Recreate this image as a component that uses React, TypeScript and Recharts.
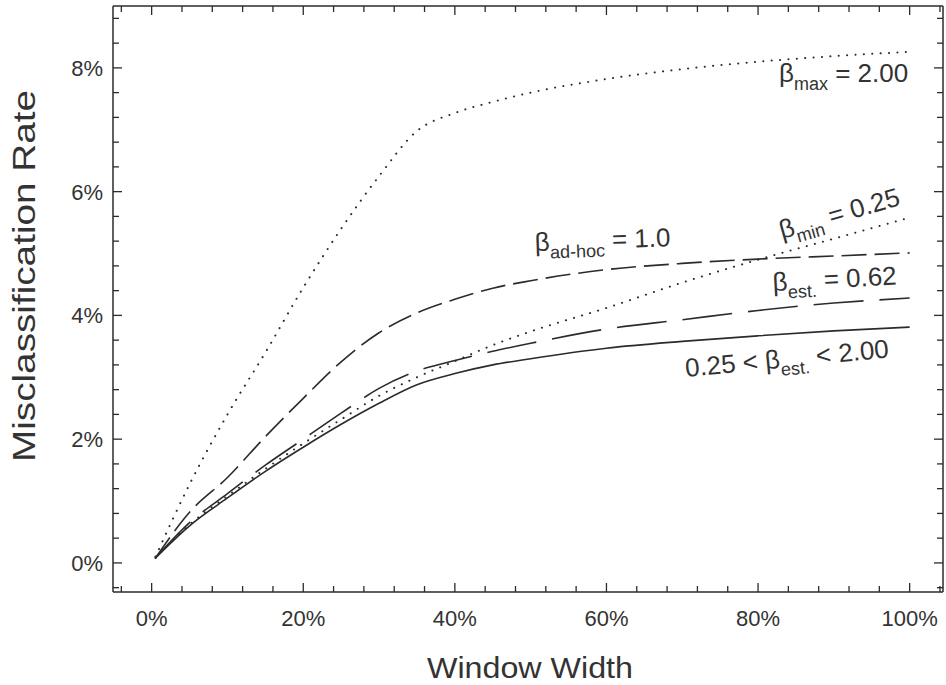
import { LineChart, Line, XAxis, YAxis } from "recharts";

// window width (%) at which each curve was read
const windowWidth = [0.5, 5, 10, 15, 20, 25, 30, 35, 40, 45, 50, 60, 70, 80, 90, 100];

// misclassification rate (%)
const betaMax = [0.1, 1.27, 2.4, 3.4, 4.45, 5.4, 6.25, 6.98, 7.27, 7.45, 7.6, 7.82, 7.98, 8.1, 8.19, 8.26];
const betaAdHoc = [0.08, 0.82, 1.38, 2.04, 2.66, 3.25, 3.72, 4.04, 4.26, 4.44, 4.56, 4.74, 4.84, 4.91, 4.96, 5.01];
const betaMin = [0.08, 0.62, 1.08, 1.52, 1.93, 2.32, 2.7, 3.0, 3.26, 3.52, 3.74, 4.12, 4.53, 4.9, 5.24, 5.58];
const betaEst = [0.08, 0.65, 1.12, 1.58, 2.0, 2.42, 2.82, 3.1, 3.27, 3.42, 3.55, 3.78, 3.93, 4.08, 4.2, 4.28];
const betaEstRange = [0.08, 0.6, 1.05, 1.48, 1.87, 2.24, 2.58, 2.88, 3.06, 3.2, 3.3, 3.47, 3.58, 3.67, 3.75, 3.81];

const xTicks = [-4, 0, 4, 8, 12, 16, 20, 24, 28, 32, 36, 40, 44, 48, 52, 56, 60, 64, 68, 72, 76, 80, 84, 88, 92, 96, 100, 104];
const yTicks = [-0.4, 0, 0.4, 0.8, 1.2, 1.6, 2, 2.4, 2.8, 3.2, 3.6, 4, 4.4, 4.8, 5.2, 5.6, 6, 6.4, 6.8, 7.2, 7.6, 8, 8.4, 8.8];
const xLabels = [0, 20, 40, 60, 80, 100];
const yLabels = [0, 2, 4, 6, 8];

const data = windowWidth.map((w, i) => ({
  w,
  betaMax: betaMax[i],
  betaAdHoc: betaAdHoc[i],
  betaMin: betaMin[i],
  betaEst: betaEst[i],
  betaEstRange: betaEstRange[i],
}));

const W = 946;
const H = 685;
const PLOT = { left: 113, top: 6, right: 943, bottom: 592 };
const INK = "#2b2b2b";
const FONT = "'Liberation Sans', Arial, Helvetica, sans-serif";

const isMajor = (v: number, labels: number[]) => labels.some((l) => Math.abs(l - v) < 1e-6);

function BottomTick(props: any) {
  const v = props.payload.value;
  const major = isMajor(v, xLabels);
  const len = major ? 9 : 6;
  return (
    <g>
      <line x1={props.x} x2={props.x} y1={PLOT.bottom} y2={PLOT.bottom - len} stroke={INK} strokeWidth={1.3} />
      {major && (
        <text x={props.x} y={626} textAnchor="middle" fontSize={22} fill="#333" fontFamily={FONT}>
          {`${v}%`}
        </text>
      )}
    </g>
  );
}

function TopTick(props: any) {
  const major = isMajor(props.payload.value, xLabels);
  const len = major ? 9 : 6;
  return <line x1={props.x} x2={props.x} y1={PLOT.top} y2={PLOT.top + len} stroke={INK} strokeWidth={1.3} />;
}

function LeftTick(props: any) {
  const v = props.payload.value;
  const major = isMajor(v, yLabels);
  const len = major ? 9 : 6;
  return (
    <g>
      <line x1={PLOT.left} x2={PLOT.left + len} y1={props.y} y2={props.y} stroke={INK} strokeWidth={1.3} />
      {major && (
        <text x={103} y={props.y + 8} textAnchor="end" fontSize={22} fill="#333" fontFamily={FONT}>
          {`${v}%`}
        </text>
      )}
    </g>
  );
}

function RightTick(props: any) {
  const major = isMajor(props.payload.value, yLabels);
  const len = major ? 9 : 6;
  return <line x1={PLOT.right} x2={PLOT.right - len} y1={props.y} y2={props.y} stroke={INK} strokeWidth={1.3} />;
}

function Beta({ x, y, sub, rest, angle = 0 }: { x: number; y: number; sub: string; rest: string; angle?: number }) {
  return (
    <text x={x} y={y} fontSize={26} fill="#333" fontFamily={FONT} transform={`rotate(${angle} ${x} ${y})`}>
      <tspan>β</tspan>
      <tspan dy={8} fontSize={18}>{sub}</tspan>
      <tspan dy={-8}>{rest}</tspan>
    </text>
  );
}

export default function App() {
  return (
    <div style={{ position: "absolute", left: 0, top: 0, background: "#fff" }}>
      <LineChart width={W} height={H} data={data} margin={{ top: 0, right: 0, left: 0, bottom: 0 }}>
        <XAxis
          dataKey="w"
          type="number"
          domain={[-5.1, 104.4]}
          ticks={xTicks}
          interval={0}
          height={H - PLOT.bottom}
          tickLine={false}
          axisLine={{ stroke: INK, strokeWidth: 1.5 }}
          tick={<BottomTick />}
          allowDataOverflow
        />
        <XAxis
          xAxisId="top"
          orientation="top"
          dataKey="w"
          type="number"
          domain={[-5.1, 104.4]}
          ticks={xTicks}
          interval={0}
          height={PLOT.top}
          tickLine={false}
          axisLine={{ stroke: INK, strokeWidth: 1.5 }}
          tick={<TopTick />}
          allowDataOverflow
        />
        <YAxis
          type="number"
          domain={[-0.47, 9.0]}
          ticks={yTicks}
          interval={0}
          width={PLOT.left}
          tickLine={false}
          axisLine={{ stroke: INK, strokeWidth: 1.5 }}
          tick={<LeftTick />}
          allowDataOverflow
        />
        <YAxis
          yAxisId="right"
          orientation="right"
          type="number"
          domain={[-0.47, 9.0]}
          ticks={yTicks}
          interval={0}
          width={W - PLOT.right}
          tickLine={false}
          axisLine={{ stroke: INK, strokeWidth: 1.5 }}
          tick={<RightTick />}
          allowDataOverflow
        />
        <Line type="monotone" dataKey="betaMax" stroke={INK} strokeWidth={2} strokeDasharray="0.1 8.3" strokeLinecap="round" dot={false} isAnimationActive={false} />
        <Line type="monotone" dataKey="betaAdHoc" stroke={INK} strokeWidth={1.6} strokeDasharray="25 8" dot={false} isAnimationActive={false} />
        <Line type="monotone" dataKey="betaMin" stroke={INK} strokeWidth={2} strokeDasharray="0.1 8.3" strokeLinecap="round" dot={false} isAnimationActive={false} />
        <Line type="monotone" dataKey="betaEst" stroke={INK} strokeWidth={1.6} strokeDasharray="50 16" dot={false} isAnimationActive={false} />
        <Line type="monotone" dataKey="betaEstRange" stroke={INK} strokeWidth={1.6} dot={false} isAnimationActive={false} />

        <text
          x={35}
          y={276}
          fontSize={31}
          fill="#333"
          fontFamily={FONT}
          textAnchor="middle"
          textLength={372}
          lengthAdjust="spacingAndGlyphs"
          transform="rotate(-90 35 276)"
        >
          Misclassification Rate
        </text>
        <text x={530} y={678} fontSize={30} fill="#333" fontFamily={FONT} textAnchor="middle" textLength={206} lengthAdjust="spacingAndGlyphs">
          Window Width
        </text>

        <Beta x={779} y={82} sub="max" rest=" = 2.00" />
        <Beta x={535} y={251} sub="ad-hoc" rest=" = 1.0" angle={-2} />
        <Beta x={782} y={239} sub="min" rest=" = 0.25" angle={-16} />
        <Beta x={773} y={291} sub="est." rest=" = 0.62" angle={-3} />
        <text x={686} y={377} fontSize={26} fill="#333" fontFamily={FONT} transform="rotate(-5.5 686 377)">
          <tspan>0.25 &lt; β</tspan>
          <tspan dy={8} fontSize={18}>est.</tspan>
          <tspan dy={-8}> &lt; 2.00</tspan>
        </text>
      </LineChart>
    </div>
  );
}
